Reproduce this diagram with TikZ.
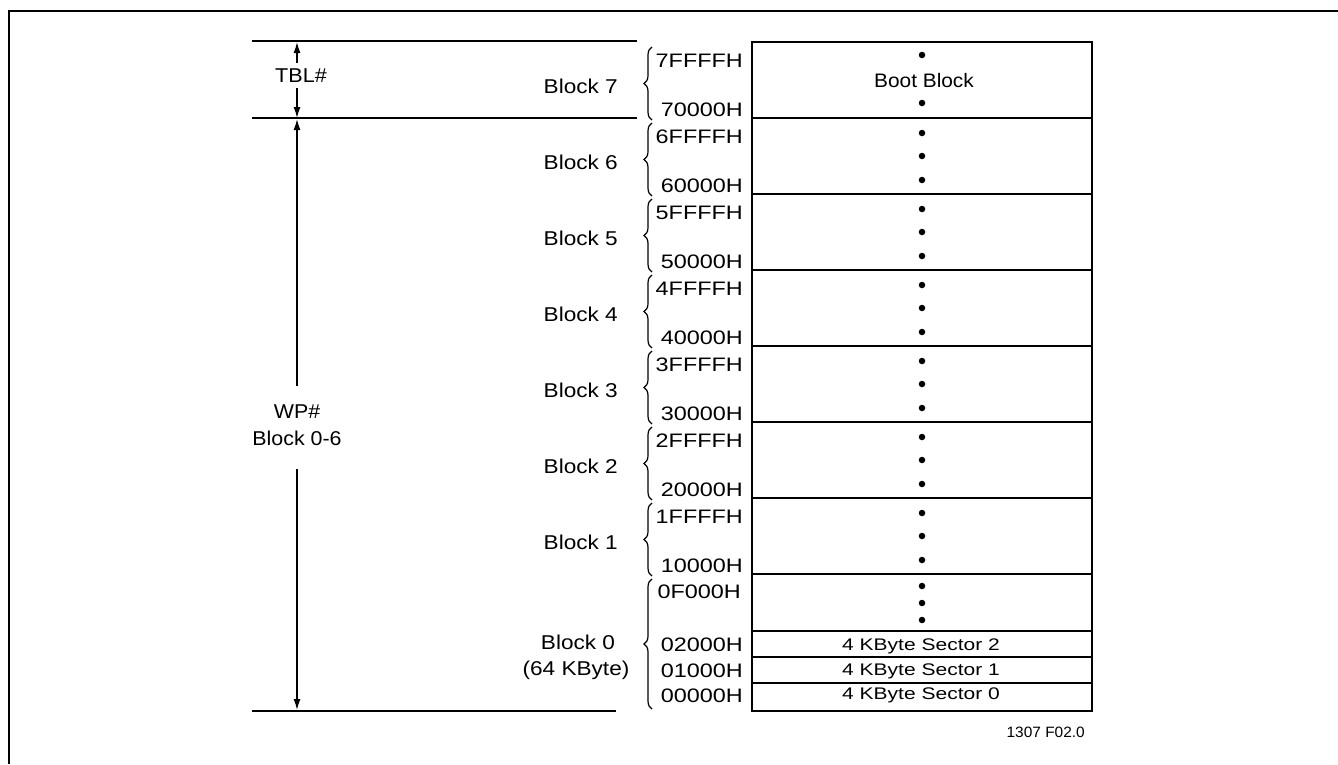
\documentclass[tikz,border=0pt]{standalone}
\usepackage{fontspec}
\usepackage{graphicx}
\setmainfont{Liberation Sans}
\newcommand{\sx}[2][1.2]{\scalebox{#1}[1]{#2}}
\usetikzlibrary{decorations.pathreplacing,arrows.meta}
\begin{document}
\begin{tikzpicture}[x=1pt,y=-1pt,
  lab/.style={font=\fontsize{19.5}{27}\selectfont, inner sep=0pt},
  big/.style={font=\fontsize{20}{27}\selectfont, inner sep=0pt},
  addr/.style={lab, anchor=base east},
  blab/.style={big, anchor=base east},
  sec/.style={font=\fontsize{16.8}{20}\selectfont, inner sep=0pt, anchor=base},
  dotn/.style={circle, fill, inner sep=0pt, minimum size=6.5pt},
  rulel/.style={line width=1.8pt},
  boxl/.style={line width=2pt},
  arr/.style={line width=1.4pt, -{Latex[length=11pt,width=7pt]}},
  br/.style={decorate, decoration={brace, amplitude=8pt}, line width=1.2pt}]
\useasboundingbox (0,0) rectangle (1338,764);
% outer frame
\draw[line width=2.8pt] (9,764) -- (9,11) -- (1338,11);

% horizontal rules on the left
\draw[rulel] (252,41) -- (637,41);
\draw[rulel] (252,118) -- (637,118);
\draw[rulel] (252,711) -- (616,711);

% memory map box
\draw[boxl] (752,42) rectangle (1092,711);
\foreach \y in {118,194,270,346,422,498,574,631,657,683}
  \draw[line width=1.7pt] (752,\y) -- (1092,\y);

% block 7
\node[blab] (blk7) at (618,93) {\sx[1.13]{Block 7}};
\node[addr] (hi7) at (743,67) {\sx{7FFFFH}};
\node[addr] (lo7) at (743,116) {\sx{70000H}};
\draw[br] (652,120) -- (652,47);
\node[dotn] (d7a) at (922,55) {};
\node[lab, anchor=base] (boot) at (924,87) {\sx[1.07]{Boot Block}};
\node[dotn] (d7b) at (922,103) {};

% blocks 1..6
\foreach \n/\t in {6/118,5/194,4/270,3/346,2/422,1/498}{
  \node[blab] (blk\n) at (618,\t+51) {\sx[1.13]{Block \n}};
  \node[addr] (hi\n) at (743,\t+25) {\sx{\n FFFFH}};
  \node[addr] (lo\n) at (743,\t+74) {\sx{\n 0000H}};
  \draw[br] (652,\t+78) -- (652,\t+5);
  \node[dotn] (da\n) at (922,\t+15) {};
  \node[dotn] (db\n) at (922,\t+38) {};
  \node[dotn] (dc\n) at (922,\t+62) {};
}

% block 0
\node[big, anchor=base] (blk0) at (578,649) {\sx[1.13]{Block 0}};
\node[big, anchor=base] (kb0) at (576,675) {\sx[1.13]{(64 KByte)}};
\draw[br] (652,709) -- (652,579);
\node[addr] (a0f) at (741,598) {\sx{0F000H}};
\node[addr] (a02) at (743,651) {\sx{02000H}};
\node[addr] (a01) at (743,677) {\sx{01000H}};
\node[addr] (a00) at (743,702) {\sx{00000H}};
\node[dotn] (d0a) at (922,586) {};
\node[dotn] (d0b) at (922,603) {};
\node[dotn] (d0c) at (922,620) {};
\node[sec] (s2) at (921,650) {\sx[1.25]{4 KByte Sector 2}};
\node[sec] (s1) at (921,675) {\sx[1.25]{4 KByte Sector 1}};
\node[sec] (s0) at (921,699) {\sx[1.25]{4 KByte Sector 0}};

% TBL# arrows
\node[big] (tbl) at (301,76) {\sx[1.08]{TBL\#}};
\coordinate (tbltop) at (297,42);
\coordinate (tblbot) at (297,118);
\coordinate (tblA) at (297,63);
\coordinate (tblB) at (297,88);
\draw[arr] (tblA) -- (tbltop);
\draw[arr] (tblB) -- (tblbot);

% WP# arrows
\node[big, align=center] (wp) at (297,425) {\sx[1.07]{WP\#}\\\sx[1.07]{Block 0-6}};
\coordinate (wptop) at (297,119);
\coordinate (wpbot) at (297,710);
\coordinate (wpA) at (297,386);
\coordinate (wpB) at (297,469);
\draw[arr] (wpA) -- (wptop);
\draw[arr] (wpB) -- (wpbot);

% figure id
\node[font=\fontsize{15}{18}\selectfont, inner sep=0pt, anchor=base east] (fig) at (1085,737) {\sx[1.03]{1307 F02.0}};
\end{tikzpicture}
\end{document}
